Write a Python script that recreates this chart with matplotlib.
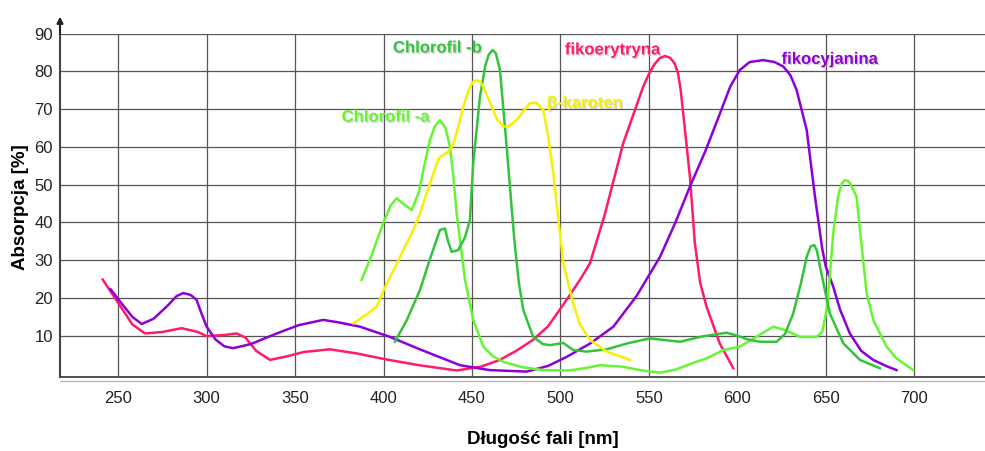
import matplotlib
matplotlib.use("Agg")
import matplotlib.pyplot as plt
import matplotlib.patheffects as pe
from matplotlib.lines import Line2D

plt.rcParams['font.family'] = ['Liberation Sans', 'DejaVu Sans']

# dane (dlugosc fali [nm], absorpcja [%])
fikoerytryna_x = [241.2, 250, 258, 265.2, 275, 285.9, 295, 300, 310, 317, 322, 328, 335.8, 345, 355,
                  369.7, 385, 401.8, 420, 441.3, 455, 465.8, 475, 484.5, 493, 503.5, 512, 516.7, 525,
                  535.5, 546.8, 550, 553, 556, 559.1, 562, 564.5, 566.5, 568, 569.4, 573.2, 576, 579,
                  582.6, 590, 597.7]
fikoerytryna_y = [24.9, 18.7, 13, 10.6, 11.0, 12.0, 11, 9.9, 10.2, 10.6, 9.5, 6, 3.6, 4.5, 5.7,
                  6.4, 5.3, 3.7, 2.2, 0.8, 1.8, 3.6, 6, 8.9, 12.5, 19.5, 25.5, 29.2, 42,
                  61, 76, 79.3, 81.8, 83.5, 84.1, 83.6, 82.2, 79.5, 75, 68.9, 52.1, 34.5, 24,
                  17.7, 8, 1.4]

fikocyjanina_x = [245.7, 252, 258, 263.3, 270, 278, 283, 286.8, 291, 294.3, 297, 300, 305, 310, 315,
                  325, 339.6, 352, 365.9, 375, 386.7, 403.6, 420, 443.2, 460, 480.9, 493, 503.5, 517,
                  529.9, 543, 556.3, 565, 573.2, 582, 590.2, 596, 601.4, 607, 614.6, 621, 626, 630,
                  633.5, 639.2, 643.9, 648, 650, 654.2, 658, 663.6, 670, 676.8, 684, 690]
fikocyjanina_y = [22.3, 18.5, 15, 13.1, 14.5, 18, 20.5, 21.3, 20.8, 19.5, 16, 12.4, 9, 7.2, 6.7,
                  7.8, 10.6, 12.8, 14.2, 13.5, 12.4, 9.7, 6.5, 2.2, 0.9, 0.5, 2, 4.4, 8,
                  12.4, 20.5, 30.9, 40, 49.5, 59, 68.9, 76, 80.4, 82.5, 83.0, 82.5, 81.3, 79,
                  75.1, 64.5, 46.8, 33, 28.3, 23, 17, 10.6, 6, 3.6, 2, 0.9]

chl_a_x = [387.6, 393, 399.8, 404, 407.4, 411, 415.9, 420, 423, 426.2, 429, 431.9, 435, 437.5, 439.5,
           441.3, 443.2, 446, 450.7, 456.4, 462, 467.7, 478, 490.3, 505, 515, 522.3, 535, 545, 556.2,
           565, 575, 582.6, 592, 601.4, 610, 620.3, 627, 635.4, 644.8, 648, 650.5, 652.5, 654.2, 657,
           659, 660.8, 662.5, 664, 667.4, 670, 673.1, 677, 684.4, 690, 699.4]
chl_a_y = [24.8, 31, 39.8, 44.5, 46.4, 45, 43.3, 48, 55, 61.8, 65.5, 67.1, 65, 60.1, 52,
           42.4, 35.4, 25, 14.2, 7.1, 4.5, 3.1, 1.7, 0.9, 0.8, 1.5, 2.2, 1.8, 0.9, 0.2,
           1, 2.8, 4, 6.2, 7.1, 9.5, 12.4, 11.5, 9.7, 9.7, 11, 16.8, 27, 37.1, 47,
           50.3, 51.2, 51, 50.2, 46.8, 35, 21.2, 14, 7.1, 4, 0.9]

chl_b_x = [406.4, 413, 420.6, 426, 431.9, 434.7, 436.5, 438.5, 442.2, 446, 448.8, 450.7, 454.5, 457.5,
           459.5, 461.7, 463.5, 465.8, 469.6, 473.3, 474.3, 476.5, 479, 484.6, 490, 494.1, 501.6, 507.2,
           514.8, 526.1, 538, 550.6, 560, 567.6, 580, 593.9, 600, 606, 612.8, 622.2, 627, 631.6, 636,
           639.2, 641.5, 643.5, 645, 646.7, 652.3, 659.9, 669.3, 680.6]
chl_b_y = [8.4, 14, 22.1, 30, 38, 38.4, 35, 32.2, 32.7, 36, 40.6, 55.7, 73.3, 81.5,
           84.5, 85.7, 84.8, 80.4, 60.1, 38.9, 33.6, 24, 16.8, 9.7, 7.8, 7.5, 8.1, 6.2,
           5.8, 6.4, 8, 9.3, 8.8, 8.4, 9.8, 10.8, 10, 9, 8.4, 8.4, 10.5, 15.9, 24,
           30.9, 33.7, 34, 32.5, 28.3, 15.9, 8, 3.6, 1.4]

karoten_x = [382.9, 390, 396.1, 400, 409.3, 416.8, 420.6, 426, 430, 431.9, 436, 439.4, 442, 445.1,
             448.5, 450.5, 452.6, 454.5, 456.4, 460, 464, 467.7, 471, 475.2, 479, 482.8, 486.5, 490.3,
             493, 496, 501.6, 507.2, 511, 516.7, 526.1, 539.3]
karoten_y = [13.3, 15.5, 17.7, 22, 30.9, 38, 42.4, 50, 55.5, 57.4, 58.5, 60.5, 65, 70.7,
             75.5, 77.2, 77.7, 77.3, 76, 72, 67.5, 65.4, 65.5, 67.1, 69.5, 71.6, 71.7, 69.8,
             63, 53, 29.2, 18.6, 13, 8.9, 5.8, 3.6]

x_ticks = [250, 300, 350, 400, 450, 500, 550, 600, 650, 700]
y_ticks = [10, 20, 30, 40, 50, 60, 70, 80, 90]

c_ery = "#ff1a6e"
c_cyj = "#8d00d6"
c_a = "#66f533"
c_b = "#33c43a"
c_kar = "#f7f000"

fig = plt.figure(figsize=(9.85, 4.51), dpi=100)
ax = fig.add_axes([60/985, (451-376.7)/451, (985-60)/985, (376.7-33.7)/451])

lw = 1.8
for xs, ys, col in [(fikoerytryna_x, fikoerytryna_y, c_ery),
                    (fikocyjanina_x, fikocyjanina_y, c_cyj),
                    (chl_a_x, chl_a_y, c_a),
                    (chl_b_x, chl_b_y, c_b),
                    (karoten_x, karoten_y, c_kar)]:
    ax.plot(xs, ys, color=col, lw=lw, zorder=3, solid_joinstyle="round")

ax.set_xlim(217.1, 740)
ax.set_ylim(-0.85, 90)
ax.set_xticks(x_ticks)
ax.set_yticks(y_ticks)
ax.tick_params(length=0, labelsize=12, colors="#222222")
ax.tick_params(axis="x", pad=10)
ax.tick_params(axis="y", pad=5)
ax.grid(True, color="#555555", lw=0.9)
ax.set_axisbelow(True)
for s in ["top", "right"]:
    ax.spines[s].set_visible(False)
ax.spines["left"].set_color("#444444")
ax.spines["left"].set_linewidth(1.5)
ax.spines["bottom"].set_color("#444444")
ax.spines["bottom"].set_linewidth(1.3)

# strzalka osi y
ax.annotate("", xy=(0, 1.058), xytext=(0, 0.99), xycoords="axes fraction",
            arrowprops=dict(arrowstyle="-|>", color="#222222", lw=1.5, mutation_scale=9),
            annotation_clip=False)
fig.add_artist(Line2D([60/985, 1], [1-381/451, 1-381/451], color="#bbbbbb", lw=1))

ax.set_xlabel("Długość fali [nm]", fontsize=13.5, fontweight="bold", va="center")
ax.set_ylabel("Absorpcja [%]", fontsize=13.5, fontweight="bold", va="center")
ax.xaxis.set_label_coords(0.5216, -0.1845)
ax.yaxis.set_label_coords(-0.0432, 0.4947)

shadow = [pe.SimplePatchShadow(offset=(1, -1), shadow_rgbFace="#999999", alpha=0.4), pe.Normal()]
labels = [
    ("Chlorofil -b", 405.3, 86.2, c_b),
    ("Chlorofil -a", 376.3, 67.9, c_a),
    ("β-karoten", 492.2, 71.6, c_kar),
    ("fikoerytryna", 502.5, 85.7, c_ery),
    ("fikocyjanina", 625, 83.2, c_cyj),
]
for txt, lx, ly, col in labels:
    ax.text(lx, ly, txt, color=col, fontsize=12, fontweight="bold", va="center", ha="left",
            path_effects=shadow, zorder=4)

fig.savefig("out.png", dpi=100)
